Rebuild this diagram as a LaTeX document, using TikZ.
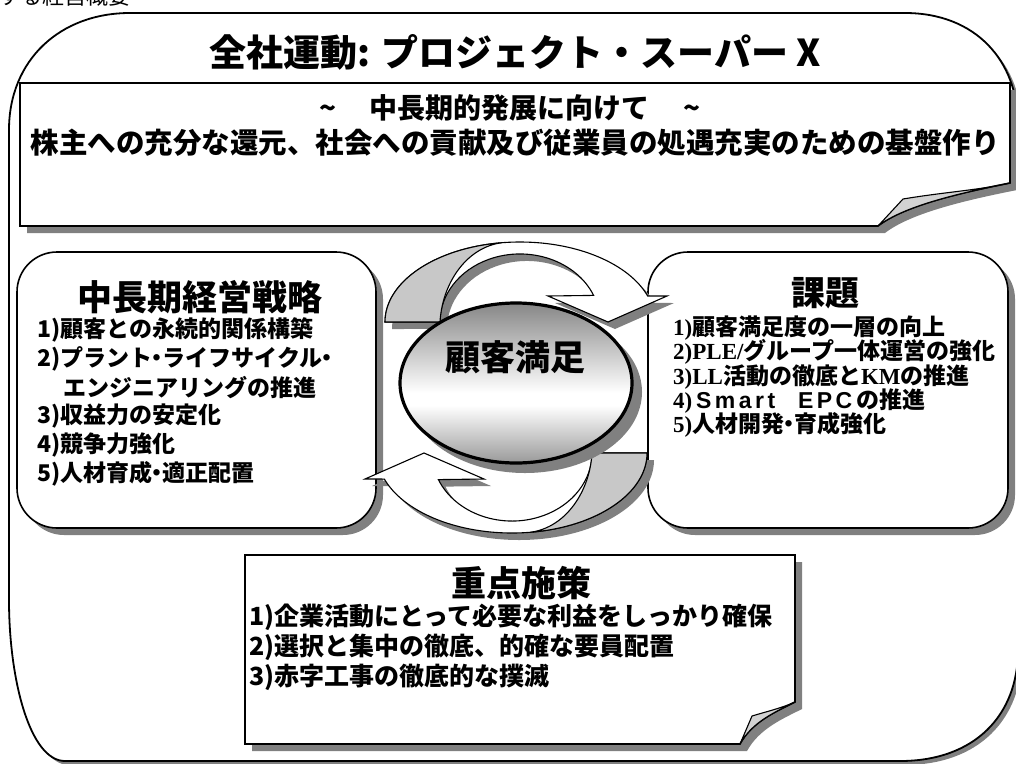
\documentclass[tikz,border=0pt]{standalone}
\usepackage{fontspec}
\setmainfont{Noto Sans CJK JP}
\newfontfamily\tnr{Liberation Serif}
\newfontfamily\arsp{Liberation Sans}[LetterSpace=15]
\usetikzlibrary{shapes.geometric}
\definecolor{shgray}{HTML}{808080}
\definecolor{flapgray}{HTML}{D2D2D2}
\definecolor{argray}{HTML}{C8C8C8}
\newcommand\nd{\kern-.28em・\kern-.28em}
\pgfdeclareverticalshading{ellshade}{100bp}{color(0bp)=(shgray!80); color(25bp)=(shgray!80); color(43bp)=(white); color(47bp)=(white); color(75bp)=(shgray!95); color(100bp)=(shgray!95)}
\newcommand\outerpath{(9,600) -- (9,130) .. controls (9,60) and (60,13) .. (130,13) -- (905,13) .. controls (975,13) and (1018,60) .. (1018,125) -- (1018,650) .. controls (1018,715) and (975,761) .. (900,761) -- (65,761) .. controls (30,761) and (9,680) .. (9,600) -- cycle}
\newcommand\topboxpath{(20,83) -- (1010,83) -- (1010,183) .. controls (965,192) and (905,205) .. (878,226) -- (20,226) -- cycle}
\newcommand\topflap{(878,226) -- (903,199) .. controls (945,192) and (980,190) .. (1010,183) .. controls (965,192) and (905,205) .. (878,226) -- cycle}
\newcommand\botboxpath{(245,555) -- (795,555) -- (795,702) .. controls (775,712) and (752,722) .. (740,744) -- (245,744) -- cycle}
\newcommand\botflap{(740,744) -- (752,716) .. controls (765,712) and (782,708) .. (795,702) .. controls (775,712) and (752,722) .. (740,744) -- cycle}
\newcommand\arrowpath{(385,322) arc[start angle=180,end angle=341,x radius=135,y radius=80] -- (667,296) -- (608,322) -- (548,296) -- (593.6,295.4) arc[start angle=337,end angle=180,x radius=80,y radius=68] -- cycle}
\newcommand\twistpath{(385,322) arc[start angle=180,end angle=262,x radius=135,y radius=80] .. controls (465,248) and (442,285) .. (440,322) -- cycle}
\begin{document}
\begin{tikzpicture}[x=1pt,y=-1pt,
  shad/.style={fill=shgray,draw=none},
  boxline/.style={draw=black,line width=1.6pt,fill=white},
  arline/.style={draw=black,line width=1.1pt,line join=miter},
  jp/.style={inner sep=0pt,font=\bfseries\fontsize{#1}{#1}\selectfont},
  fragtxt/.style={inner sep=0pt,font=\mdseries\fontsize{22}{22}\selectfont},
  itemL/.style={jp=23,anchor=west},
  itemR/.style={jp=23,anchor=west},
  itemB/.style={jp=25,anchor=west}]
\useasboundingbox (0,0) rectangle (1016,763);
% outer frame
\fill[shad,shift={(4,4)}] \outerpath;
\draw[line width=1.8pt,fill=white] \outerpath;
% top note box
\fill[shad,shift={(7,7)}] \topboxpath;
\draw[boxline] \topboxpath;
\draw[line width=1.1pt,fill=flapgray] \topflap;
% left and right rounded boxes
\fill[shad,rounded corners=40pt] (24,259) rectangle (383,535);
\draw[boxline,rounded corners=40pt] (17,252) rectangle (376,528);
\fill[shad,rounded corners=40pt] (655,259) rectangle (1015,535);
\draw[boxline,rounded corners=40pt] (648,252) rectangle (1008,528);
% bottom note box
\fill[shad,shift={(7,7)}] \botboxpath;
\draw[boxline] \botboxpath;
\draw[line width=1.1pt,fill=flapgray] \botflap;
% cycle arrows: top
\fill[shad,shift={(7,7)}] \arrowpath;
\draw[arline,fill=white] \arrowpath;
\draw[arline,fill=argray] \twistpath;
% cycle arrows: bottom (rotated copy)
\begin{scope}[shift={(7,7)}]
  \begin{scope}[rotate around={180:(516,387.5)}]
    \fill[shad] \arrowpath;
  \end{scope}
\end{scope}
\begin{scope}[rotate around={180:(516,387.5)}]
  \draw[arline,fill=white] \arrowpath;
  \draw[arline,fill=argray] \twistpath;
\end{scope}
% central ellipse
\fill[shad] (525,392) ellipse [x radius=117, y radius=81];
\node (ell) [ellipse,draw=black,line width=3.2pt,shading=ellshade,minimum width=232pt,minimum height=160pt,inner sep=0pt] at (516,383) {};
\node[jp=35] (cs) at (515,357) {顧客満足};
% texts
\node[fragtxt,anchor=base west] (frag) at (-2,4) {する経営概要};
\node[jp=37] (title) at (515,52) {全社運動: プロジェクト・スーパー X};
\node[jp=28] (sub1) at (510,108) {\textasciitilde\hspace{1.2em}中長期的発展に向けて\hspace{1.2em}\textasciitilde};
\node[jp=28.5] (sub2) at (515,143) {株主への充分な還元、社会への貢献及び従業員の処遇充実のための基盤作り};
% left box
\node[jp=35] (ltitle) at (200,297) {中長期経営戦略};
\node[itemL] (l1) at (37,330) {1)顧客との永続的関係構築};
\node[itemL] (l2) at (37,358.7) {2)プラント\nd ライフサイクル\nd};
\node[itemL] (l2b) at (63,387.4) {エンジニアリングの推進};
\node[itemL] (l3) at (37,416.1) {3)収益力の安定化};
\node[itemL] (l4) at (37,444.8) {4)競争力強化};
\node[itemL] (l5) at (37,473.5) {5)人材育成\nd 適正配置};
% right box
\node[jp=34] (rtitle) at (825,293) {課題};
\node[itemR] (r1) at (673,328) {{\tnr 1)}顧客満足度の一層の向上};
\node[itemR] (r2) at (673,352.3) {{\tnr 2)PLE/}グループ一体運営の強化};
\node[itemR] (r3) at (673,376.6) {{\tnr 3)LL}活動の徹底と{\tnr KM}の推進};
\node[itemR] (r4) at (673,400.9) {{\tnr 4)}\,{\arsp Smart\quad EPC}\,の推進};
\node[itemR] (r5) at (673,425.2) {{\tnr 5)}人材開発\nd 育成強化};
% bottom box
\node[jp=35] (btitle) at (521,583) {重点施策};
\node[itemB] (b1) at (249,617) {1)企業活動にとって必要な利益をしっかり確保};
\node[itemB] (b2) at (249,647) {2)選択と集中の徹底、的確な要員配置};
\node[itemB] (b3) at (249,677) {3)赤字工事の徹底的な撲滅};
\end{tikzpicture}
\end{document}
